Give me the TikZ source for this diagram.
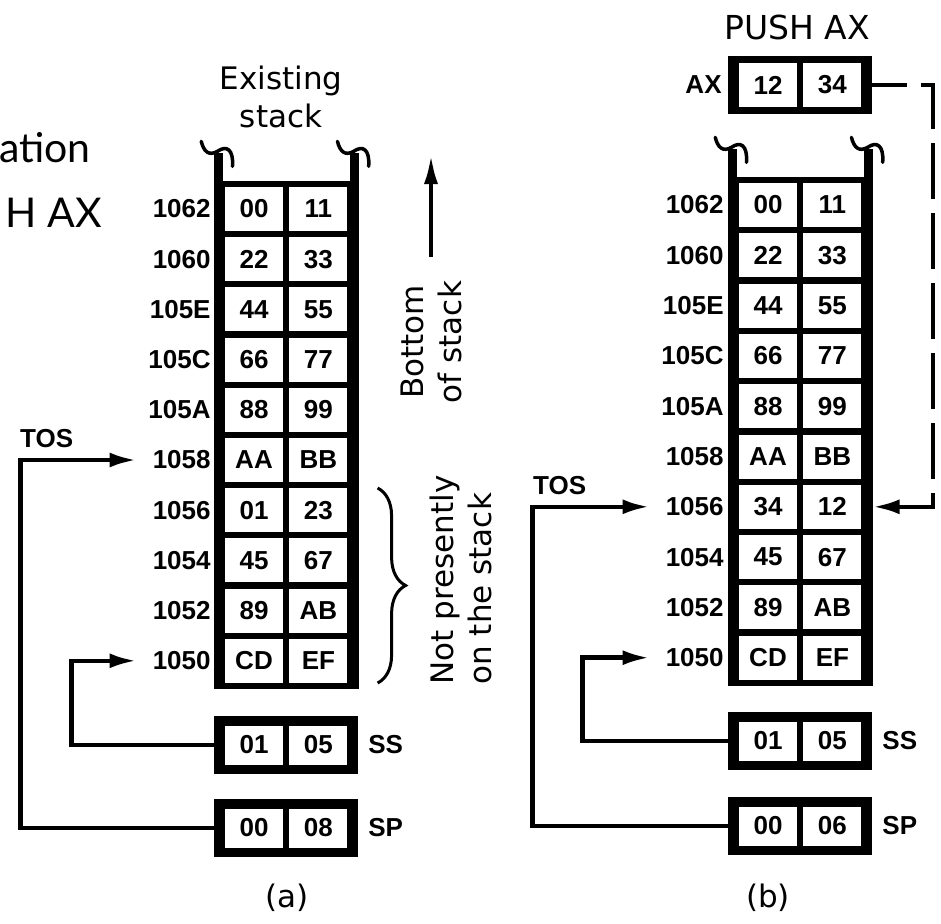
\documentclass[tikz,border=0pt]{standalone}
\usepackage{fontspec}
\setsansfont{DejaVu Sans}
\newfontfamily\hexfont{Liberation Sans}
\newfontfamily\slidefont{Lato}
\usetikzlibrary{arrows.meta, positioning, fit, backgrounds, decorations.pathreplacing}

\begin{document}
\begin{tikzpicture}[x=1pt, y=-1pt,
  font=\hexfont\bfseries\fontsize{26}{30}\selectfont,
  cell/.style={fill=white, minimum width=58pt, minimum height=44pt, inner sep=0pt},
  regcell/.style={cell, minimum height=39pt},
  reg/.style={fill=black, minimum width=144pt, minimum height=58pt, inner sep=0pt},
  stackbody/.style={fill=black, inner xsep=11pt, inner ysep=6pt},
  addr/.style={inner sep=0pt},
  wall/.style={line width=9pt},
  curl/.style={line width=3.5pt, line cap=round},
  note/.style={font=\sffamily\mdseries\fontsize{31}{38}\selectfont, align=center, inner sep=0pt},
  title/.style={font=\slidefont\fontsize{41}{46}\selectfont, anchor=base east, inner sep=0pt},
  arr/.style={-{Latex[length=27pt, width=15pt]}, line width=4.5pt},
  dasharr/.style={arr, dash pattern=on 56pt off 14pt, dash phase=21pt},
  bracket/.style={decorate, decoration={brace, amplitude=28pt}, line width=3pt}]
\useasboundingbox (0,0) rectangle (941,923);

% slide title, cut off at the left edge
\node[title] (title1) at (91,162) {ation};
\node[title] (title2) at (102,227) {H AX};

% (a) existing stack
\foreach \adr/\hi/\lo [count=\i from 0] in {1062/00/11, 1060/22/33, 105E/44/55, 105C/66/77, 105A/88/99,
    1058/AA/BB, 1056/01/23, 1054/45/67, 1052/89/AB, 1050/CD/EF} {
  \node[cell] (a\adr l) at (254, 209+50.2*\i) {\hi};
  \node[cell, right=6pt of a\adr l] (a\adr r) {\lo};
  \node[addr, left=14pt of a\adr l] (a\adr) {\adr};
}
\node[note] (existing) at (281,97) {Existing\\stack};
\node[reg] (ssA) at (286,745) {};
\node[regcell] (ssAhi) at ([xshift=-32pt]ssA.center) {01};
\node[regcell, right=6pt of ssAhi] (ssAlo) {05};
\node[addr, right=10pt of ssA] (ssAname) {SS};
\node[reg] (spA) at (286,828) {};
\node[regcell] (spAhi) at ([xshift=-32pt]spA.center) {00};
\node[regcell, right=6pt of spAhi] (spAlo) {08};
\node[addr, right=10pt of spA] (spAname) {SP};
\node[addr, anchor=west] (tosA) at (20,439) {TOS};
\draw[arr, shorten >=16pt] (spA.west) -| ([xshift=-132pt]a1058.west) -- (a1058.west);
\draw[arr, shorten >=16pt] (ssA.west) -| ([xshift=-81pt]a1050.west) -- (a1050.west);
\node[note, rotate=90] (bottom) at (431,342) {Bottom\\of stack};
\coordinate (bottomtip) at (431,154);
\draw[arr, -{Latex[length=30pt, width=14pt]}] ([yshift=24pt]bottom.east) -- (bottomtip);
\draw[bracket] ([xshift=30pt]a1056r.north east) -- ([xshift=30pt]a1050r.south east);
\node[note, rotate=90, align=left] (notpresent) at (461,580) {Not presently\\on the stack};
\node[note] (capA) at (287,898) {(a)};

% (b) after PUSH AX
\foreach \adr/\hi/\lo [count=\i from 0] in {1062/00/11, 1060/22/33, 105E/44/55, 105C/66/77, 105A/88/99,
    1058/AA/BB, 1056/34/12, 1054/45/67, 1052/89/AB, 1050/CD/EF} {
  \node[cell] (b\adr l) at (768, 205+50.3*\i) {\hi};
  \node[cell, right=6pt of b\adr l] (b\adr r) {\lo};
  \node[addr, left=15pt of b\adr l] (b\adr) {\adr};
}
\node[note, font=\sffamily\mdseries\fontsize{33}{38}\selectfont] (push) at (797,27) {PUSH AX};
\node[reg] (axB) at (800,85) {};
\node[cell] (axBhi) at ([xshift=-32pt]axB.center) {12};
\node[cell, right=6pt of axBhi] (axBlo) {34};
\node[addr, left=6pt of axB] (axBname) {AX};
\node[reg] (ssB) at (800,741) {};
\node[regcell] (ssBhi) at ([xshift=-32pt]ssB.center) {01};
\node[regcell, right=6pt of ssBhi] (ssBlo) {05};
\node[addr, right=10pt of ssB] (ssBname) {SS};
\node[reg] (spB) at (800,826) {};
\node[regcell] (spBhi) at ([xshift=-32pt]spB.center) {00};
\node[regcell, right=6pt of spBhi] (spBlo) {06};
\node[addr, right=10pt of spB] (spBname) {SP};
\node[addr, anchor=west] (tosB) at (533,486) {TOS};
\draw[arr, shorten >=16pt] (spB.west) -| ([xshift=-133pt]b1056.west) -- (b1056.west);
\draw[arr, shorten >=16pt] (ssB.west) -| ([xshift=-83pt]b1050.west) -- (b1050.west);
\draw[dasharr] (axB.east) -- ++(61,0) |- ([xshift=11pt]b1056r.east);
\node[note] (capB) at (768,898) {(b)};

% black bodies and walls of both stacks
\begin{scope}[on background layer]
  \node[stackbody, fit=(a1062l)(a1050r)] (bodyA) {};
  \node[stackbody, fit=(b1062l)(b1050r)] (bodyB) {};
\end{scope}
\draw[wall] ([xshift=4.5pt]bodyA.north west) -- ++(0,-28) coordinate (aTL);
\draw[wall] ([xshift=-4.5pt]bodyA.north east) -- ++(0,-28) coordinate (aTR);
\draw[wall] ([xshift=4.5pt]bodyB.north west) -- ++(0,-28) coordinate (bTL);
\draw[wall] ([xshift=-4.5pt]bodyB.north east) -- ++(0,-28) coordinate (bTR);
\foreach \c in {aTL, aTR, bTL, bTR}
  \draw[curl, shift={(\c)}, scale=1.25] (-13.5,-9) .. controls (-11.5,-1) and (-7.5,3) .. (-0.5,-1)
    .. controls (6.5,-6) and (12.5,-3) .. (11.5,11);
\end{tikzpicture}
\end{document}
